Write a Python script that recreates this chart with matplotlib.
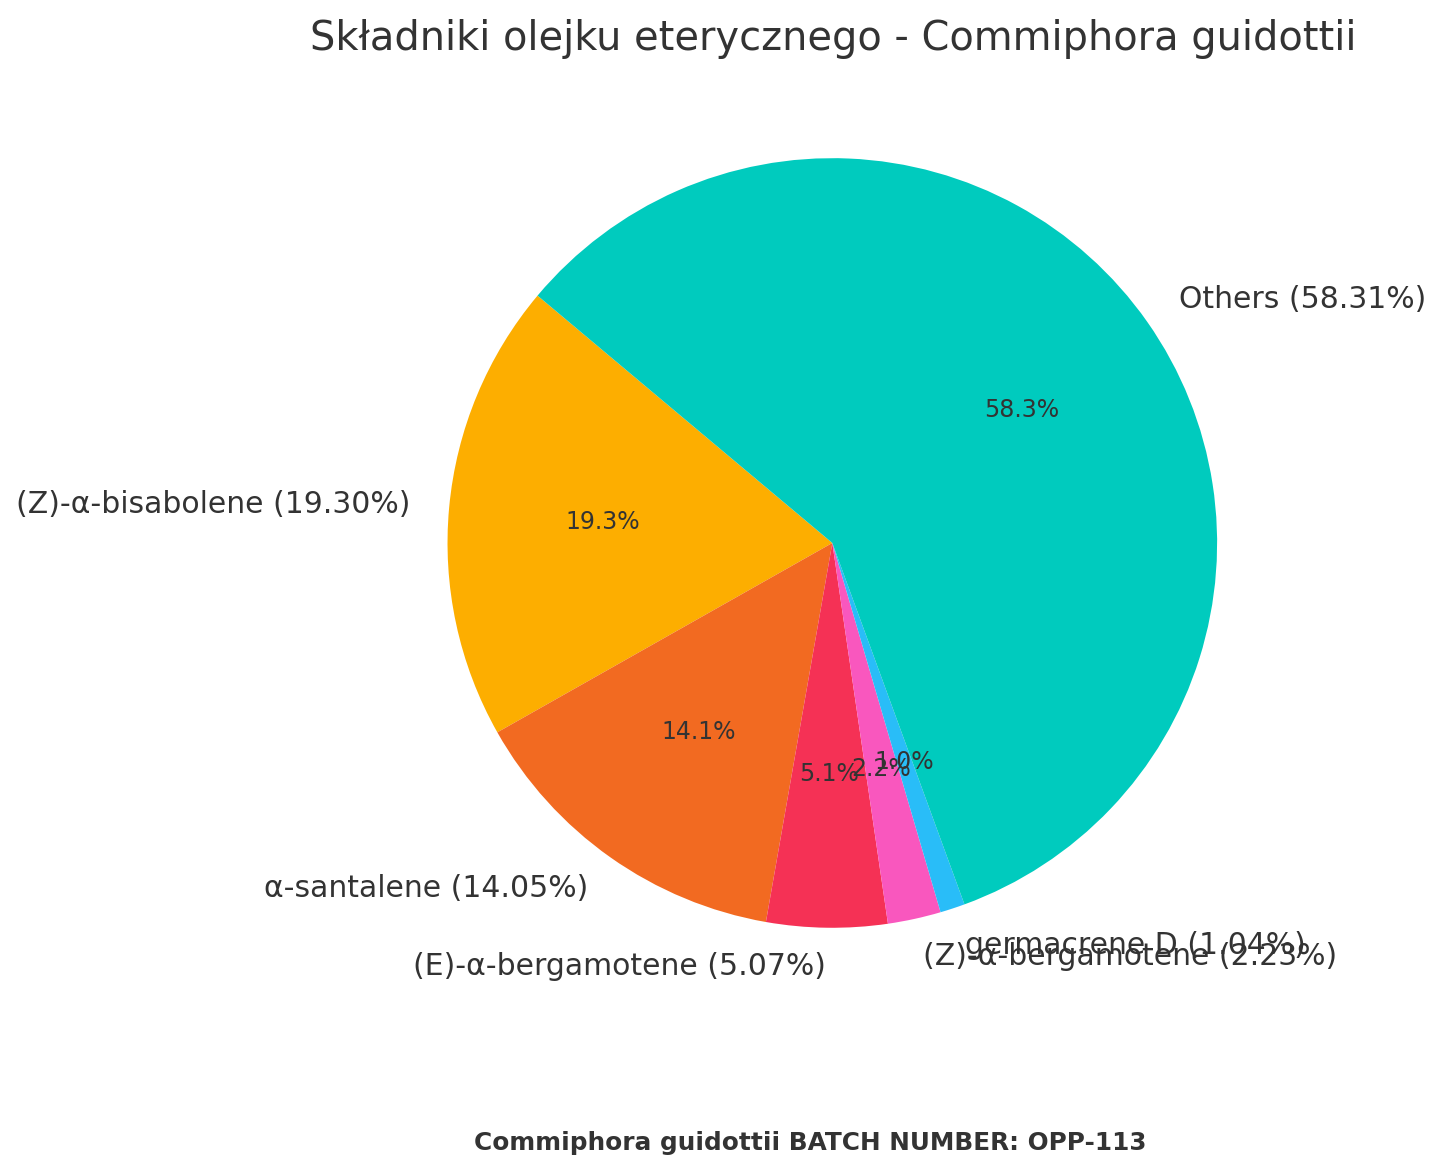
import matplotlib.pyplot as plt

labels = ["(Z)-α-bisabolene", "α-santalene", "(E)-α-bergamotene",
          "(Z)-α-bergamotene", "germacrene D", "Others"]
values = [19.30, 14.05, 5.07, 2.23, 1.04, 58.31]
colors = ["#FDAE00", "#F26A21", "#F53155", "#F957BE", "#29BDF8", "#00CBBE"]

fig = plt.figure(figsize=(14.45, 11.74), dpi=100)
w, h = 962 / 1445, 962 / 1174
ax = fig.add_axes([0.576 - w / 2, 0.5375 - h / 2, w, h])
full_labels = [f"{l} ({v:.2f}%)" for l, v in zip(labels, values)]
wedges, texts, autotexts = ax.pie(values, labels=full_labels, colors=colors,
                                  startangle=140, autopct="%1.1f%%",
                                  textprops={"fontsize": 21.5, "color": "#333333"})
for t in autotexts:
    t.set_fontsize(17)
ax.set_aspect("equal")
fig.text(0.5765, 0.984, "Składniki olejku eterycznego - Commiphora guidottii",
         ha="center", va="top", fontsize=28.7, color="#333333")
fig.text(0.561, 0.026, "Commiphora guidottii BATCH NUMBER: OPP-113",
         ha="center", va="center", fontsize=17.8, fontweight="bold", color="#333333")
fig.savefig("out.png", dpi=100)
